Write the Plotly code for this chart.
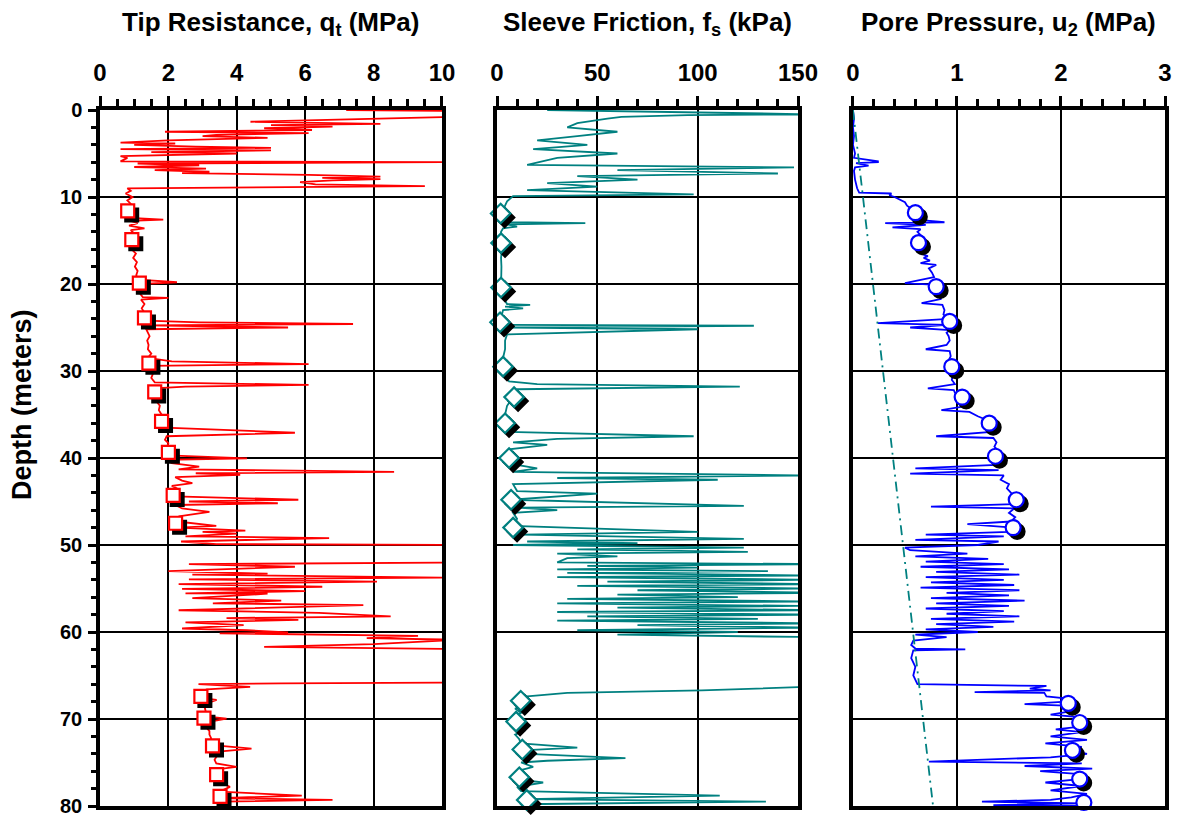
import plotly.graph_objects as go

# ---------------- CPT sounding data ----------------
# Tip resistance q_t (MPa) versus depth (m)
qt_depth = [0.0, 0.1, 0.7, 0.8, 1.35, 1.5, 1.6, 1.75, 1.9, 2.1, 2.3, 2.5, 2.65, 2.85, 3.0, 3.2, 3.5,
            3.75, 3.85, 4.0, 4.2, 4.35, 4.5, 4.65, 4.85, 5.0, 5.3, 5.5, 5.9, 6.0, 6.15, 6.35, 6.55,
            6.75, 6.9, 7.1, 7.25, 7.45, 7.65, 7.8, 7.95, 8.1, 8.3, 8.55, 8.75, 9.0, 9.3, 9.6, 10.0,
            10.4, 10.8, 11.2, 11.6, 12.0, 12.4, 12.6, 12.75, 13.0, 13.3, 13.6, 13.8, 14.2, 14.6,
            15.0, 15.5, 16.0, 16.5, 17.0, 17.5, 18.0, 18.5, 19.0, 19.5, 19.8, 20.0, 20.5, 21.0,
            21.5, 21.6, 21.8, 22.3, 22.8, 23.3, 23.8, 24.2, 24.4, 24.6, 24.75, 25.0, 25.2, 25.6,
            26.0, 26.5, 27.0, 27.5, 28.0, 28.5, 28.9, 29.2, 29.4, 29.8, 30.3, 30.8, 31.3, 31.6,
            31.8, 32.0, 32.5, 33.0, 33.5, 34.0, 34.5, 35.0, 35.5, 36.0, 36.5, 37.1, 37.3, 37.5,
            37.9, 38.3, 38.8, 39.3, 39.7, 40.04, 40.2, 40.6, 41.0, 41.3, 41.6, 41.75, 41.95, 42.2,
            42.6, 42.9, 43.2, 43.6, 44.0, 44.4, 44.8, 45.0, 45.2, 45.4, 45.8, 46.2, 46.7, 46.9,
            47.3, 47.8, 48.0, 48.35, 48.5, 48.7, 49.0, 49.2, 49.6, 49.9, 50.0, 50.1, 51.0, 52.0,
            52.2, 52.5, 53.0, 53.3, 53.4, 53.75, 53.95, 54.2, 54.5, 54.8, 55.05, 55.3, 55.55,
            55.6, 56.1, 56.4, 56.7, 56.9, 57.5, 57.8, 58.2, 58.4, 58.6, 58.9, 59.2, 59.6, 59.8,
            60.05, 60.15, 60.45, 60.7, 60.9, 61.4, 61.7, 61.95, 62.5, 64.0, 65.8, 65.9, 66.0,
            66.3, 66.6, 67.05, 67.6, 67.8, 68.3, 68.8, 69.3, 69.7, 69.95, 70.4, 70.9, 71.4,
            71.8, 72.2, 72.6, 73.0, 73.4, 73.8, 74.3, 74.7, 75.1, 75.5, 75.8, 76.2, 76.7, 77.2,
            77.8, 78.35, 78.8, 79.1, 79.3, 79.5, 79.9, 80.0]
qt_value = [7.2, 10.5, 10.4, 10.3, 4.4, 7.0, 8.2, 5.0, 6.8, 4.8, 6.2, 1.9, 6.1, 3.4, 3.0, 4.9, 2.0,
            0.6, 2.2, 1.0, 2.8, 5.0, 0.6, 5.0, 1.5, 4.0, 0.6, 0.8, 0.6, 10.0, 1.1, 2.9, 1.0,
            3.1, 1.6, 3.2, 2.4, 6.1, 8.2, 6.5, 8.2, 6.8, 5.85, 6.3, 9.5, 0.8, 0.9, 0.75, 0.95,
            0.8, 0.9, 0.8, 0.82, 0.85, 0.9, 1.85, 0.9, 1.1, 0.85, 1.3, 0.9, 1.0, 0.9,
            0.95, 1.0, 0.92, 1.05, 0.97, 1.08, 1.02, 1.1, 1.06, 1.12, 2.25, 1.15, 1.2, 1.15,
            1.25, 2.0, 1.2, 1.3, 1.22, 1.3, 1.28, 1.35, 2.9, 7.4, 1.4, 5.5, 1.35, 1.4,
            1.45, 1.38, 1.42, 1.4, 1.5, 1.4, 2.1, 6.1, 1.45, 1.5, 1.55, 1.5, 1.6, 6.1,
            2.5, 1.6, 1.62, 1.7, 1.65, 1.75, 1.72, 1.8, 1.8, 1.85, 1.9, 5.7, 3.5, 1.95,
            1.9, 2.0, 1.95, 2.0, 2.0, 4.3, 1.95, 2.1, 2.9, 2.3, 8.6, 2.8, 4.1, 2.2,
            2.4, 2.7, 2.1, 2.3, 2.15, 2.2, 5.8, 2.6, 5.2, 2.2, 2.4, 3.2, 2.3, 2.35,
            2.25, 3.4, 2.3, 4.25, 3.0, 4.0, 2.5, 6.7, 2.37, 3.4, 10.5, 12.0, 14.0, 11.0,
            2.6, 5.7, 2.0, 4.9, 2.7, 10.0, 2.6, 8.1, 2.3, 6.5, 2.4, 6.0, 2.5,
            4.9, 2.7, 5.3, 3.3, 7.7, 2.3, 6.4, 8.5, 3.7, 5.8, 2.5, 4.2, 2.4, 4.3,
            5.5, 3.5, 9.3, 7.8, 10.5, 8.0, 4.8, 10.5, 13.0, 15.0, 10.5, 5.3, 2.88,
            4.39, 3.12, 2.84, 3.0, 3.41, 3.05, 3.07, 3.1, 3.1, 3.7, 3.1, 3.1, 3.2,
            3.2, 3.25, 3.2, 3.3, 4.43, 3.3, 3.41, 3.35, 3.4, 3.99, 3.4, 3.45, 3.4, 3.45,
            3.8, 3.5, 5.9, 3.5, 6.8, 3.55, 3.5, 3.55]

# Sleeve friction f_s (kPa) versus depth (m)
fs_depth = [0.0, 0.5, 0.6, 0.8, 1.0, 1.5, 2.0, 2.5, 3.0, 3.5, 4.0, 4.5, 5.0, 5.5, 6.3, 6.6, 6.9,
            7.3, 7.6, 8.0, 8.4, 8.8, 9.2, 9.5, 9.7, 9.9, 10.5, 11.0, 11.5, 12.0, 12.5, 12.9,
            13.0, 13.15, 13.4, 13.6, 14.0, 15.3, 16.0, 17.0, 18.0, 19.0, 20.4, 21.5, 22.3, 22.4,
            22.6, 22.8, 23.0, 24.4, 24.7, 24.8, 25.0, 25.2, 25.6, 25.8, 26.5, 27.5, 28.5, 29.5,
            30.5, 31.2, 31.5, 31.8, 32.1, 32.5, 33.0, 34.0, 35.0, 36.0, 37.0, 37.5, 37.8, 38.2,
            38.5, 39.0, 40.0, 40.8, 41.2, 41.6, 42.0, 42.3, 42.5, 43.0, 43.8, 44.1, 44.8, 45.5,
            45.7, 46.0, 46.3, 47.0, 47.8, 48.5, 48.8, 49.3, 49.6, 49.8, 50.0, 50.3, 50.5, 50.8,
            51.0, 51.3, 51.5, 52.0, 52.2, 52.4, 52.6, 52.8, 53.0, 53.2, 53.5, 53.7, 54.0, 54.2,
            54.5, 54.7, 55.0, 55.2, 55.5, 55.7, 56.0, 56.2, 56.5, 56.7, 57.0, 57.2, 57.5, 57.7,
            58.0, 58.2, 58.5, 58.7, 59.0, 59.2, 59.5, 59.8, 60.0, 60.3, 60.6, 61.0, 63.0, 66.2,
            66.7, 67.0, 67.4, 67.8, 68.3, 68.8, 69.3, 69.8, 70.3, 70.8, 71.3, 71.8, 72.3, 72.8,
            73.3, 73.6, 74.0, 74.5, 74.8, 75.0, 75.5, 76.0, 76.5, 77.0, 77.3, 77.8, 78.3, 78.8,
            79.2, 79.5, 79.8, 80.0]
fs_value = [25, 160, 95, 62, 55, 40, 35, 60, 40, 20, 45, 18, 60, 30, 15, 148, 60,
            140, 40, 70, 25, 50, 15, 60, 98, 8, 5, 4, 3, 1.8, 3, 6,
            44, 5, 10, 3, 2, 2, 2.5, 2, 2.2, 2, 2, 3, 5, 16.5,
            4, 13, 3, 1.5, 4, 128, 6, 100, 35, 5, 4, 4, 3, 3,
            4, 6, 20, 121, 10, 8, 8, 5, 4, 4, 5, 98, 30, 8,
            25, 6, 6, 10, 20, 8, 155, 30, 110, 8, 10, 50, 7, 123,
            10, 30, 8, 10, 8, 100, 12, 123, 15, 70, 8, 123, 40, 125,
            30, 60, 35, 30, 160, 45, 100, 30, 135, 35, 155, 30, 160, 55,
            160, 40, 160, 70, 165, 60, 120, 35, 160, 30, 150, 60, 160, 30,
            160, 45, 130, 30, 160, 70, 155, 40, 120, 60, 160, 170, 180, 170,
            102, 35, 15, 11.8, 15, 9, 12, 8, 9.5, 10, 14, 9, 11, 12,
            40, 12.6, 15, 64, 25, 12, 18, 10, 11, 12, 23, 10, 12, 111,
            14.8, 134, 12, 14]

# Pore pressure u2 (MPa) versus depth (m)
u2_depth = [0.0, 1.0, 2.0, 3.0, 4.0, 5.0, 5.5, 5.9, 6.0, 6.1, 6.4, 6.6, 7.0, 8.0, 9.0, 9.5, 9.6,
            9.8, 10.0, 10.3, 10.6, 11.0, 11.3, 11.7, 12.2, 12.6, 12.9, 13.0, 13.2, 13.5, 13.7,
            14.0, 14.5, 15.0, 15.5, 16.0, 16.5, 16.8, 17.0, 17.3, 17.6, 17.8, 18.2, 18.7, 19.2,
            19.9, 20.1, 20.6, 21.2, 21.7, 22.2, 22.4, 23.0, 23.5, 24.0, 24.5, 24.7, 25.0, 25.3,
            25.6, 26.0, 26.5, 27.0, 27.5, 27.7, 28.3, 28.8, 29.5, 30.0, 30.5, 31.0, 31.5, 32.0,
            32.2, 32.5, 33.0, 33.5, 34.0, 34.5, 34.7, 35.2, 35.6, 36.0, 36.5, 37.0, 37.5, 37.7,
            38.2, 38.7, 39.2, 39.8, 40.3, 40.8, 41.2, 41.4, 41.8, 42.0, 42.5, 43.0, 43.5, 44.0,
            44.8, 45.3, 45.6, 45.8, 46.3, 46.8, 47.3, 47.6, 48.0, 48.5, 48.8, 49.0, 49.4, 49.6,
            50.0, 50.3, 50.6, 51.0, 51.3, 51.6, 51.9, 52.2, 52.5, 52.8, 53.1, 53.4, 53.7, 54.0,
            54.3, 54.6, 54.9, 55.2, 55.5, 55.8, 56.1, 56.4, 56.7, 57.0, 57.3, 57.6, 57.9, 58.2,
            58.5, 58.8, 59.1, 59.4, 59.7, 60.0, 60.3, 60.6, 61.0, 61.5, 61.9, 62.0, 62.1, 63.0,
            64.0, 65.0, 66.0, 66.2, 66.5, 66.7, 66.9, 67.0, 67.4, 67.6, 68.0, 68.3, 68.5, 69.0,
            69.5, 69.8, 70.4, 70.8, 71.2, 71.5, 72.0, 72.4, 72.8, 73.2, 73.6, 74.0, 74.4, 74.9,
            75.1, 75.4, 75.7, 76.0, 76.4, 76.9, 77.3, 77.7, 78.2, 78.6, 79.0, 79.3, 79.5, 79.7,
            79.9, 80.0]
u2_value = [0.0, 0.01, 0.0, 0.01, 0.0, 0.02, 0.01, 0.24, 0.24, 0.03, 0.15, 0.02, 0.01, 0.02, 0.04,
            0.06, 0.37, 0.35, 0.40, 0.45, 0.5, 0.52, 0.55, 0.6, 0.63, 0.6, 0.88, 0.31, 0.7, 0.38,
            0.65, 0.62, 0.66, 0.63, 0.64, 0.67, 0.65, 0.72, 0.68, 0.74, 0.65, 0.8, 0.73, 0.76,
            0.78, 0.5, 0.8, 0.82, 0.8, 0.85, 0.66, 0.86, 0.88, 0.87, 0.92, 0.24, 0.9, 0.55, 0.93,
            0.9, 0.92, 0.93, 0.9, 0.7, 0.93, 0.94, 0.92, 0.95, 0.93, 0.96, 0.95, 0.98, 0.72,
            0.97, 0.98, 1.05, 1.08, 1.1, 0.85, 1.12, 1.2, 1.28, 1.31, 1.35, 1.33, 0.8, 1.35,
            1.38, 1.36, 1.4, 1.37, 1.4, 1.38, 0.6, 1.4, 0.55, 1.45, 1.42, 1.5, 1.48, 1.52,
            1.57, 1.55, 0.75, 1.55, 1.5, 1.56, 1.52, 1.1, 1.54, 1.5, 0.7, 1.45, 0.6, 1.4,
            1.2, 0.5, 0.55, 1.1, 0.6, 1.3, 0.7, 1.45, 0.65, 1.5, 0.8, 1.6, 0.7, 1.45,
            0.75, 1.55, 0.65, 1.6, 0.9, 1.5, 0.75, 1.65, 0.8, 1.5, 0.7, 1.45, 0.9, 1.6,
            0.75, 1.55, 0.8, 1.35, 0.7, 1.2, 0.6, 0.9, 0.58, 0.56, 0.6, 1.08, 0.58, 0.56,
            0.6, 0.58, 0.62, 1.86, 1.7, 1.9, 1.17, 1.84, 1.86, 2.02, 2.05, 1.65, 2.1, 2.15,
            1.9, 2.2, 2.18, 2.25, 1.95, 2.2, 1.9, 2.25, 1.85, 2.2, 2.11, 2.25, 1.9, 0.73,
            2.2, 1.65, 2.3, 1.8, 2.25, 2.18, 1.85, 2.2, 1.9, 2.25, 2.1, 1.9, 1.24, 2.2,
            1.35, 2.2]

# Hydrostatic pore pressure u0 (MPa)
u0_depth = [0.0, 80.0]
u0_value = [0.0, 0.77]

# Measured points highlighted on each profile
qt_pt_depth = [11.6, 14.9, 19.9, 23.9, 29.1, 32.4, 35.8, 39.35, 44.3, 47.5, 67.4, 69.9, 73.1, 76.4, 78.9]
qt_pt_value = [0.81, 0.93, 1.15, 1.30, 1.43, 1.60, 1.80, 2.00, 2.14, 2.21, 2.95, 3.04, 3.29, 3.41, 3.51]
fs_pt_depth = [11.9, 15.3, 20.4, 24.4, 29.5, 33.0, 36.0, 40.0, 44.8, 48.0, 67.9, 70.3, 73.5, 76.7, 79.3]
fs_pt_value = [1.8, 2.0, 2.0, 1.5, 3.0, 8.5, 4.0, 6.0, 7.0, 8.0, 11.8, 9.5, 12.6, 11.1, 14.8]
u2_pt_depth = [11.8, 15.25, 20.3, 24.3, 29.5, 33.0, 36.0, 39.8, 44.8, 48.0, 68.2, 70.4, 73.6, 76.9, 79.6]
u2_pt_value = [0.60, 0.63, 0.80, 0.93, 0.95, 1.05, 1.31, 1.37, 1.57, 1.54, 2.07, 2.18, 2.11, 2.18, 2.22]

# ---------------- layout geometry ----------------
W, H = 1178, 816
M = dict(l=100, r=13, t=110, b=10)
plot_w = W - M["l"] - M["r"]
plot_h = H - M["t"] - M["b"]
depth_range = [80, 0]

panels = [
    dict(dom=[0.0, 0.3211], rng=[0, 10], dtick=2, minor=0.5, color="#FF0000",
         title="Tip Resistance, q<sub>t</sub> (MPa)"),
    dict(dom=[0.3728, 0.6554], rng=[0, 150], dtick=50, minor=10, color="#008080",
         title="Sleeve Friction, f<sub>s</sub> (kPa)"),
    dict(dom=[0.7070, 1.0], rng=[0, 3], dtick=1, minor=0.2, color="#0000FF",
         title="Pore Pressure, u<sub>2</sub> (MPa)"),
]

FONT = "Liberation Sans, Arial, sans-serif"
fig = go.Figure()

profiles = [(qt_depth, qt_value), (fs_depth, fs_value), (u2_depth, u2_value)]
points = [(qt_pt_depth, qt_pt_value, "square", 13),
          (fs_pt_depth, fs_pt_value, "diamond", 15),
          (u2_pt_depth, u2_pt_value, "circle", 15)]

shadow_px = 4.0
for i, p in enumerate(panels):
    xa = "x" if i == 0 else f"x{i + 1}"
    ya = "y" if i == 0 else f"y{i + 1}"
    d, v = profiles[i]
    fig.add_trace(go.Scatter(x=v, y=d, xaxis=xa, yaxis=ya, mode="lines",
                             line=dict(color=p["color"], width=1.8), showlegend=False))
    if i == 2:
        fig.add_trace(go.Scatter(x=u0_value, y=u0_depth, xaxis=xa, yaxis=ya, mode="lines",
                                 line=dict(color="#008080", width=1.8, dash="10px,5px,2px,5px"),
                                 showlegend=False))
    # drop shadow under each highlighted point, offset a few pixels down-right
    pd_, pv, sym, size = points[i]
    px_per_x = (p["dom"][1] - p["dom"][0]) * plot_w / (p["rng"][1] - p["rng"][0])
    px_per_y = plot_h / 80.0
    fig.add_trace(go.Scatter(x=[val + shadow_px / px_per_x for val in pv],
                             y=[dep + shadow_px / px_per_y for dep in pd_],
                             xaxis=xa, yaxis=ya, mode="markers", cliponaxis=False,
                             marker=dict(symbol=sym, size=size, color="black",
                                         line=dict(color="black", width=2)),
                             showlegend=False))
    fig.add_trace(go.Scatter(x=pv, y=pd_, xaxis=xa, yaxis=ya, mode="markers", cliponaxis=False,
                             marker=dict(symbol=sym, size=size, color="white",
                                         line=dict(color=p["color"], width=2.2)),
                             showlegend=False))

layout = dict(width=W, height=H, margin=M, paper_bgcolor="white", plot_bgcolor="white",
              showlegend=False)

for i, p in enumerate(panels):
    xk = "xaxis" if i == 0 else f"xaxis{i + 1}"
    yk = "yaxis" if i == 0 else f"yaxis{i + 1}"
    ya = "y" if i == 0 else f"y{i + 1}"
    xa = "x" if i == 0 else f"x{i + 1}"
    layout[xk] = dict(domain=p["dom"], range=p["rng"], anchor=ya, side="top", automargin=False,
                      dtick=p["dtick"], tick0=0, ticks="outside", ticklen=10, tickwidth=2.5,
                      tickcolor="black", ticklabelstandoff=6, ticklabeloverflow="allow",
                      minor=dict(dtick=p["minor"], ticks="outside", ticklen=7, tickwidth=2.5,
                                 tickcolor="black", showgrid=False),
                      showgrid=True, gridcolor="black", gridwidth=1.8, zeroline=False,
                      showline=True, linecolor="black", linewidth=3.5, mirror=True,
                      tickfont=dict(family=FONT, size=24, color="black", weight="bold"))
    ycfg = dict(domain=[0, 1], range=depth_range, anchor=xa, dtick=10, tick0=0, automargin=False,
                showgrid=True, gridcolor="black", gridwidth=1.8, zeroline=False,
                showline=True, linecolor="black", linewidth=3.5, mirror=True)
    if i == 0:
        # labels only; the outside tick marks come from the overlaid axis below
        ycfg.update(ticks="", ticklabelstandoff=10, ticklabeloverflow="allow",
                    tickfont=dict(family=FONT, size=20, color="black", weight="bold"))
    else:
        ycfg.update(showticklabels=False, ticks="", matches="y")
    layout[yk] = ycfg

# depth tick marks (major every 10 m, minor every 2 m) on the left edge of the first panel
layout["yaxis4"] = dict(overlaying="y", matches="y", anchor="x", side="left", range=depth_range,
                        automargin=False, showticklabels=False, showgrid=False, zeroline=False,
                        showline=False, dtick=10, tick0=0, ticks="outside", ticklen=11,
                        tickwidth=3, tickcolor="black",
                        minor=dict(dtick=2, ticks="outside", ticklen=8, tickwidth=3,
                                   tickcolor="black", showgrid=False))
fig.add_trace(go.Scatter(x=[None], y=[None], xaxis="x", yaxis="y4", showlegend=False,
                         hoverinfo="skip"))

annotations = []
for p in panels:
    annotations.append(dict(text=p["title"], xref="paper", yref="paper",
                            x=(p["dom"][0] + p["dom"][1]) / 2, y=1 + (110 - 23) / plot_h,
                            xanchor="center", yanchor="middle", showarrow=False,
                            font=dict(family=FONT, size=26, color="black", weight="bold")))
annotations.append(dict(text="Depth (meters)", xref="paper", yref="paper",
                        x=(22 - M["l"]) / plot_w, y=1 - (405 - 110) / plot_h, textangle=-90,
                        xanchor="center", yanchor="middle", showarrow=False,
                        font=dict(family=FONT, size=27, color="black", weight="bold")))
layout["annotations"] = annotations

fig.update_layout(**layout)
fig.write_html("out.html")
